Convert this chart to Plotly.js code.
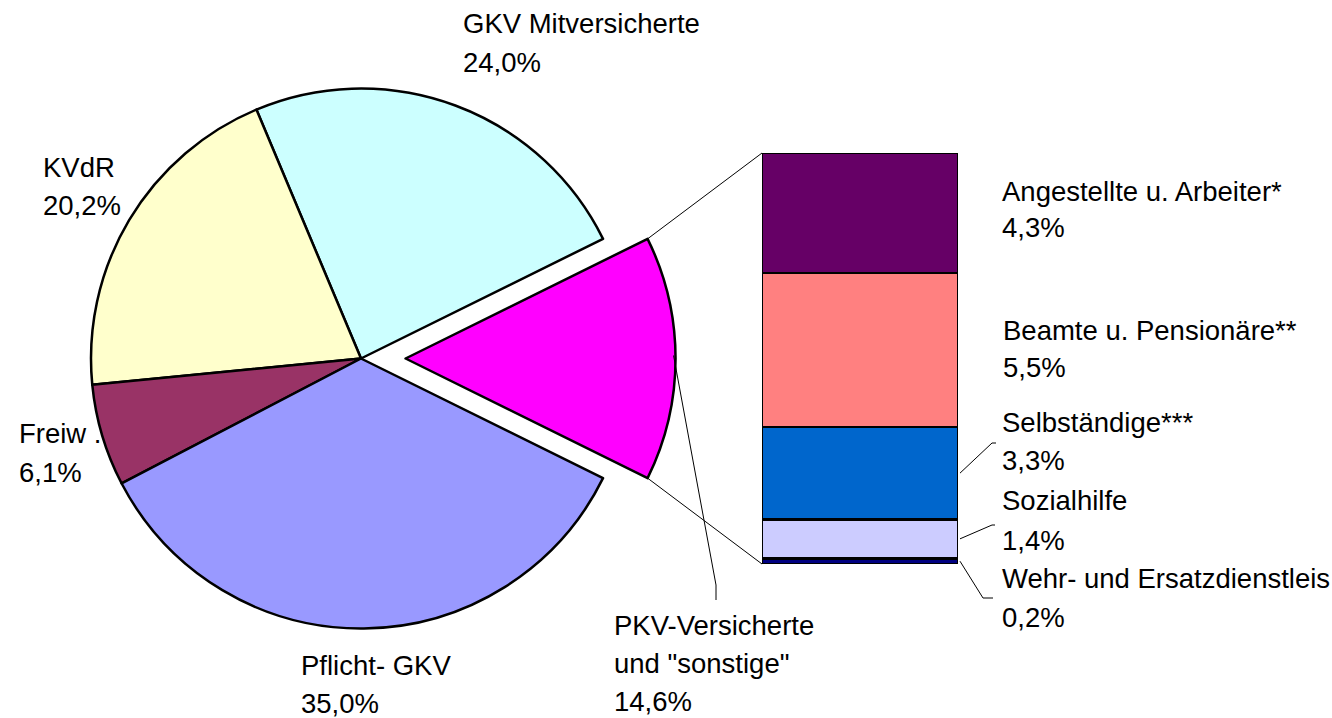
<!DOCTYPE html>
<html><head><meta charset="utf-8">
<script src="https://cdn.plot.ly/plotly-3.0.1.min.js"></script>
<style>html,body{margin:0;padding:0;background:#fff;overflow:hidden;} #chart{width:1332px;height:718px;}</style>
</head><body><div id="chart"></div>
<script>
// ---- data ----
const pieLabels = ['GKV Mitversicherte', 'KVdR', 'Freiw .', 'Pflicht- GKV', 'PKV-Versicherte|und "sonstige"'];
const pieValues = [24.0, 20.2, 6.1, 35.0, 14.6];
const pieColors = ['#CCFFFF', '#FFFFCC', '#993366', '#9999FF', '#FF00FF'];

const barLabels = ['Wehr- und Ersatzdienstleis', 'Sozialhilfe', 'Selbständige***', 'Beamte u. Pensionäre**', 'Angestellte u. Arbeiter*'];
const barValues = [0.2, 1.4, 3.3, 5.5, 4.3];
const barColors = ['#000080', '#CCCCFF', '#0066CC', '#FF8080', '#660066'];

// ---- layout geometry (pixels) ----
const W = 1332, H = 718;
const FONT = 'Liberation Sans, Arial, sans-serif';
const FS = 27.5;
const pie = {cx: 361, cy: 358.5, r: 270, pull: 0.165};
const bar = {x0: 762, x1: 958, top: 153, bottom: 564};

const fmt = v => v.toFixed(1).replace('.', ',') + '%';
const pxX = x => x / W;
const pxY = y => 1 - y / H;

// pie domain so the library places centre/radius
const half = pie.r * (1 + pie.pull);
const pieDomain = {
  x: [pxX(pie.cx - half), pxX(pie.cx + half)],
  y: [pxY(pie.cy + half), pxY(pie.cy - half)]
};
const pieTotal = pieValues.reduce((a, b) => a + b, 0);
const lastIdx = pieValues.length - 1;
const halfDeg = pieValues[lastIdx] / pieTotal * 180; // half of exploded slice
// counterclockwise: rotation marks the ccw end of first slice
const rotation = 90 - halfDeg - pieValues[0] / pieTotal * 360;

const barTotal = barValues.reduce((a, b) => a + b, 0);

const traces = [{
  type: 'pie',
  values: pieValues,
  labels: pieLabels,
  marker: {colors: pieColors, line: {color: '#000', width: 2.5}},
  sort: false,
  direction: 'counterclockwise',
  rotation: rotation,
  pull: pieValues.map((v, i) => i === lastIdx ? pie.pull : 0),
  textinfo: 'none',
  hoverinfo: 'none',
  showlegend: false,
  domain: pieDomain
}];
barValues.forEach((v, i) => {
  traces.push({
    type: 'bar', x: [0], y: [v], name: barLabels[i], width: [1],
    marker: {color: barColors[i], line: {color: '#000', width: 2.5}},
    cliponaxis: false, hoverinfo: 'none', showlegend: false,
    xaxis: 'x', yaxis: 'y'
  });
});

// ---- labels (per line, positions are layout only) ----
const pieLabelPos = [
  {x: 462, base: [33, 72]},
  {x: 42, base: [176.5, 215]},
  {x: 18, base: [443, 482]},
  {x: 300, base: [675, 713]},
  {x: 613, base: [635, 673, 711]}
];
const barLabelPos = [
  {x: 1001, base: [588, 627]},
  {x: 1001, base: [510, 550]},
  {x: 1001, base: [432, 470]},
  {x: 1002, base: [340, 377]},
  {x: 1001, base: [201, 237]}
];
const annotations = [];
function addLabel(lines, pos) {
  lines.forEach((t, k) => {
    annotations.push({
      text: t, xref: 'paper', yref: 'paper', x: pxX(pos.x), y: pxY(pos.base[k] - 9.5),
      xanchor: 'left', yanchor: 'middle', showarrow: false, borderpad: 0,
      font: {family: FONT, size: FS, color: '#000'}
    });
  });
}
pieLabels.forEach((l, i) => addLabel(l.split('|').concat([fmt(pieValues[i])]), pieLabelPos[i]));
barLabels.forEach((l, i) => addLabel([l, fmt(barValues[i])], barLabelPos[i]));

// ---- connector & leader lines ----
const shapes = [];
function seg(x0, y0, x1, y1) {
  shapes.push({type: 'line', xref: 'paper', yref: 'paper', x0: pxX(x0), y0: pxY(y0), x1: pxX(x1), y1: pxY(y1),
    line: {color: '#000', width: 1}});
}
const pcx = pie.cx + pie.pull * pie.r;
const hr = halfDeg * Math.PI / 180;
const cornerX = pcx + pie.r * Math.cos(hr);
seg(cornerX, pie.cy - pie.r * Math.sin(hr), bar.x0, bar.top);
seg(cornerX, pie.cy + pie.r * Math.sin(hr), bar.x0, bar.bottom);
// PKV leader
seg(pcx + pie.r - 2, pie.cy - 3, 716, 585); seg(716, 585, 716, 600);
// bar leaders start at segment centres
const pxPerUnit = (bar.bottom - bar.top) / barTotal;
let cum = 0; const mids = [];
barValues.forEach(v => { mids.push(bar.bottom - (cum + v / 2) * pxPerUnit); cum += v; });
seg(bar.x1 + 2, mids[2], 992, 443); seg(992, 443, 996, 443);
seg(bar.x1 + 2, mids[1], 992, 525); seg(992, 525, 995, 525);
seg(bar.x1 + 2, mids[0], 983, 598); seg(983, 598, 993, 598);

const layout = {
  width: W, height: H,
  margin: {l: 0, r: 0, t: 0, b: 0},
  paper_bgcolor: '#fff', plot_bgcolor: 'rgba(0,0,0,0)',
  barmode: 'stack', bargap: 0,
  xaxis: {domain: [pxX(bar.x0), pxX(bar.x1)], range: [-0.5, 0.5], visible: false, fixedrange: true},
  yaxis: {domain: [pxY(bar.bottom), pxY(bar.top)], range: [0, barTotal], visible: false, fixedrange: true},
  annotations: annotations,
  shapes: shapes,
  font: {family: FONT}
};
Plotly.newPlot('chart', traces, layout, {staticPlot: true, displayModeBar: false});
</script>
</body></html>
